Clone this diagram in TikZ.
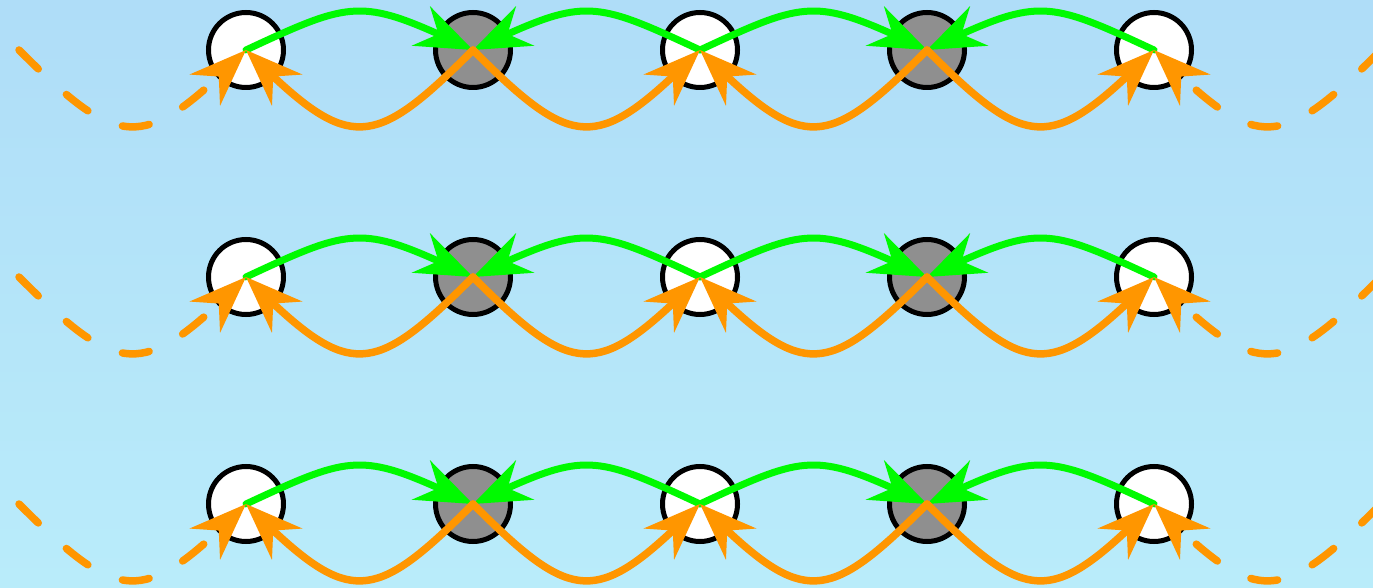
\documentclass[tikz,border=0pt]{standalone}
\usetikzlibrary{arrows.meta,bending}
\definecolor{bgtop}{RGB}{175,221,248}
\definecolor{bgbot}{RGB}{185,236,250}
\definecolor{grn}{RGB}{0,250,0}
\definecolor{org}{RGB}{255,150,0}
\definecolor{gry}{RGB}{143,143,143}
\tikzset{
  whitenode/.style={circle,draw=black,fill=white,line width=5pt,minimum size=75pt,inner sep=0pt},
  graynode/.style={whitenode,fill=gry},
  bighead/.style={-{Stealth[length=57pt,width=43pt,inset=19pt,flex]}},
  garrow/.style={draw=grn,line width=7pt,line cap=round,bighead},
  oarrow/.style={draw=org,line width=7.5pt,line cap=round,bighead},
  odashed/.style={oarrow,dash pattern=on 27pt off 38pt},
  upright/.style={out=25,in=155,distance=123pt},
  upleft/.style={out=155,in=25,distance=123pt},
  downright/.style={out=-45,in=-135,distance=145pt},
  downleft/.style={out=-135,in=-45,distance=145pt}
}
\begin{document}
\begin{tikzpicture}[x=1pt,y=1pt]
\useasboundingbox (0,0) rectangle (1373,587);
\clip (0,0) rectangle (1373,587);
\shade[top color=bgtop,bottom color=bgbot] (0,0) rectangle (1373,587);
\foreach \r/\y in {1/537,2/310,3/83}{
  \node[whitenode] (a\r) at (246,\y) {};
  \node[graynode]  (b\r) at (473,\y) {};
  \node[whitenode] (c\r) at (700,\y) {};
  \node[graynode]  (d\r) at (927,\y) {};
  \node[whitenode] (e\r) at (1154,\y) {};
  \coordinate (l\r) at (19,\y);
  \coordinate (r\r) at (1381,\y);
  % green
  \draw[garrow] (a\r.center) to[upright] (b\r.center);
  \draw[garrow] (c\r.center) to[upleft] (b\r.center);
  \draw[garrow] (c\r.center) to[upright] (d\r.center);
  \draw[garrow] (e\r.center) to[upleft] (d\r.center);
  % orange
  \draw[odashed] (l\r) to[downright] (a\r.center);
  \draw[oarrow] (b\r.center) to[downleft] (a\r.center);
  \draw[oarrow] (b\r.center) to[downright] (c\r.center);
  \draw[oarrow] (d\r.center) to[downleft] (c\r.center);
  \draw[oarrow] (d\r.center) to[downright] (e\r.center);
  \draw[odashed] (r\r) to[downleft] (e\r.center);
}
\end{tikzpicture}
\end{document}
